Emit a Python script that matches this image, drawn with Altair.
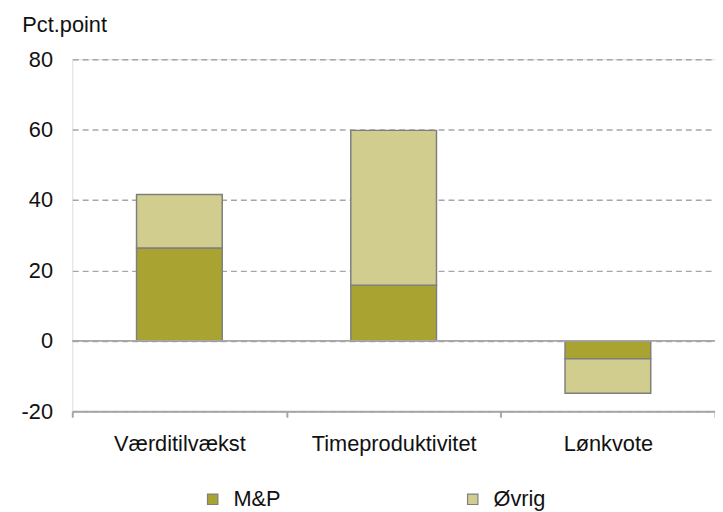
import altair as alt
import pandas as pd

categories = ["Værditilvækst", "Timeproduktivitet", "Lønkvote"]
series = ["M&P", "Øvrig"]
mp_values = [26.4, 15.8, -5.1]
ovrig_values = [15.2, 44.0, -9.8]
colors = ["#A9A432", "#D0CD8F"]
y_ticks = [-20, 0, 20, 40, 60, 80]

rows = []
for c, a, b in zip(categories, mp_values, ovrig_values):
    rows.append({"cat": c, "serie": series[0], "value": a, "ord": 0})
    rows.append({"cat": c, "serie": series[1], "value": b, "ord": 1})
df = pd.DataFrame(rows)
zero_df = pd.DataFrame({"y": [0]})

FONT = "Liberation Sans"
FS = 22

bars = alt.Chart(df).mark_bar(stroke="#7F7F7F", strokeWidth=1.5, width={"band": 0.4}).encode(
    x=alt.X("cat:N", sort=categories, title=None,
            scale=alt.Scale(paddingInner=0, paddingOuter=0),
            axis=alt.Axis(labelAngle=0, labelFontSize=FS, labelFont=FONT, labelColor="#111111",
                          domainColor="#A6A6A6", domainWidth=2, tickColor="#A6A6A6", tickWidth=2,
                          tickSize=6, tickBand="extent", labelPadding=17, grid=False)),
    y=alt.Y("value:Q", stack="zero",
            scale=alt.Scale(domain=[-20, 80], nice=False, zero=False),
            axis=alt.Axis(values=y_ticks, title="Pct.point", titleAngle=0, titleAlign="left",
                          titleBaseline="alphabetic", titleX=-51, titleY=-28,
                          titleFontSize=FS, titleFont=FONT, titleFontWeight="normal", titleColor="#111111",
                          labelFontSize=FS, labelFont=FONT, labelColor="#111111", labelPadding=20,
                          labelExpr="'' + datum.value",
                          domain=False, ticks=False, grid=True, gridDash=[6, 4], gridColor="#A6A6A6",
                          gridWidth=1.5)),
    color=alt.Color("serie:N", sort=series, scale=alt.Scale(domain=series, range=colors),
                    legend=alt.Legend(title=None, orient="none", direction="horizontal", columns=2,
                                      legendX=131, legendY=434, symbolType="square", symbolSize=110,
                                      symbolStrokeColor="#7F7F7F", symbolStrokeWidth=1.2,
                                      labelFontSize=FS, labelFont=FONT, labelColor="#111111",
                                      labelOffset=10, columnPadding=183)),
    order=alt.Order("ord:Q"),
)

zero_rule = alt.Chart(zero_df).mark_rule(color="#A6A6A6", strokeWidth=2).encode(y="y:Q")

chart = alt.layer(bars, zero_rule).properties(
    width=650, height=356,
    autosize=alt.AutoSizeParams(type="none"),
    padding={"left": 65, "top": 49, "right": 0, "bottom": 99},
).configure_view(stroke=None).configure(background="white")

chart.save("out.html", embed_options={"renderer": "svg", "actions": False})
